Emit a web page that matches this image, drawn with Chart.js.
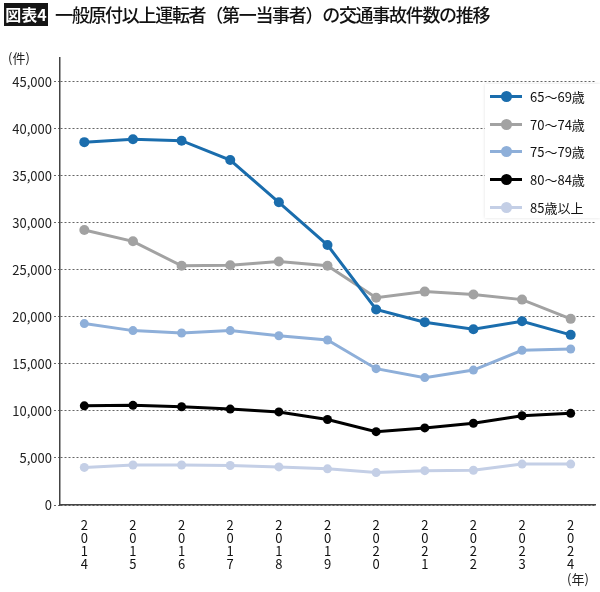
<!DOCTYPE html>
<html lang="ja">
<head>
  <meta charset="UTF-8" />
  <title>一般原付以上運転者（第一当事者）の交通事故件数の推移</title>
  <script src="https://cdn.jsdelivr.net/npm/chart.js"></script>
  <style>
    body { margin: 0; background: #fff; font-family: "Noto Sans CJK JP", sans-serif; color: #111; }
    #wrap { position: relative; width: 600px; height: 592px; overflow: hidden; }
    #chart { position: absolute; left: 0; top: 0; }
    #badge { position: absolute; left: 4px; top: 3px; width: 44px; height: 23px; background: #151515; color: #fff;
             font-weight: bold; font-size: 16px; line-height: 23px; text-align: center; }
    #title { position: absolute; left: 55px; top: 1px; font-size: 18px; line-height: 27px; font-weight: 500;
             letter-spacing: -1.3px; white-space: nowrap; }
    .unit { position: absolute; font-size: 13px; color: #222; }
    #legend { position: absolute; left: 485px; top: 84px; width: 115px; height: 134px; background: #fff;
              box-shadow: 0 0 3px rgba(0,0,0,0.12); }
    .item { position: absolute; left: 5px; height: 20px; width: 110px; }
    .item .ln { position: absolute; left: 0; top: 8px; width: 32px; height: 3px; }
    .item .dt { position: absolute; left: 11px; top: 4px; width: 11px; height: 11px; border-radius: 50%; }
    .item span { position: absolute; left: 40px; top: 0; font-size: 13px; line-height: 20px; color: #111; }
  </style>
</head>
<body>
<div id="wrap">
  <canvas id="chart" width="600" height="592"></canvas>
  <div id="badge">図表4</div>
  <div id="title">一般原付以上運転者（第一当事者）の交通事故件数の推移</div>
  <div class="unit" style="left:8px; top:48px;">(件)</div>
  <div class="unit" style="left:567px; top:569px;">(年)</div>
  <div id="legend"></div>
</div>

<script>
  const years = ["2014", "2015", "2016", "2017", "2018", "2019", "2020", "2021", "2022", "2023", "2024"];
  const seriesNames = ["65～69歳", "70～74歳", "75～79歳", "80～84歳", "85歳以上"];
  const age65 = [38600, 38900, 38750, 36700, 32200, 27650, 20800, 19450, 18700, 19550, 18100];
  const age70 = [29250, 28050, 25450, 25500, 25900, 25450, 22050, 22700, 22400, 21850, 19800];
  const age75 = [19300, 18550, 18300, 18550, 18000, 17550, 14500, 13550, 14350, 16450, 16600];
  const age80 = [10550, 10600, 10450, 10200, 9900, 9100, 7800, 8200, 8700, 9500, 9750];
  const age85 = [4000, 4250, 4250, 4200, 4050, 3850, 3450, 3650, 3700, 4350, 4350];
  const yTicks = [0, 5000, 10000, 15000, 20000, 25000, 30000, 35000, 40000, 45000];

  const colors = ["#1a6dad", "#a2a2a2", "#8eafd9", "#000000", "#c4cfe6"];
  const allValues = [age65, age70, age75, age80, age85];

  const datasets = allValues.map((vals, i) => ({
    label: seriesNames[i],
    data: vals,
    borderColor: colors[i],
    backgroundColor: colors[i],
    borderWidth: 3,
    pointRadius: i < 2 ? 5 : 4.5,
    pointBorderWidth: 0,
    tension: 0
  }));

  // legend drawn as html over the plot
  const legend = document.getElementById("legend");
  seriesNames.forEach((name, i) => {
    const row = document.createElement("div");
    row.className = "item";
    row.style.top = (3 + i * 27.7) + "px";
    row.innerHTML = `<div class="ln" style="background:${colors[i]}"></div>
      <div class="dt" style="background:${colors[i]}"></div><span>${name}</span>`;
    legend.appendChild(row);
  });

  new Chart(document.getElementById("chart"), {
    type: "line",
    data: { labels: years.map(y => y.split("")), datasets },
    options: {
      responsive: false,
      animation: false,
      layout: { padding: { left: 0, right: 5, top: 58, bottom: 0 } },
      plugins: { legend: { display: false }, tooltip: { enabled: false } },
      scales: {
        x: {
          offset: true,
          grid: { display: false, drawTicks: false },
          border: { display: true, color: "#444", width: 1.5 },
          ticks: {
            color: "#111", padding: 14, maxRotation: 0, autoSkip: false,
            font: { family: "Noto Sans CJK JP", size: 13, lineHeight: 0.98 }
          },
          afterFit: s => { s.height = 87; }
        },
        y: {
          min: 0, max: 47550,
          afterBuildTicks: s => { s.ticks = yTicks.map(v => ({ value: v })); },
          grid: { color: "#666", lineWidth: 1, tickLength: 6, tickColor: "#666", tickBorderDash: [2, 2] },
          border: { display: true, color: "#444", width: 1.5, dash: [2, 2] },
          ticks: {
            color: "#222", padding: 2,
            font: { family: "Noto Sans CJK JP", size: 13 },
            callback: v => v.toLocaleString("en-US")
          },
          afterFit: s => { s.width = 60; }
        }
      }
    }
  });
</script>
</body>
</html>
